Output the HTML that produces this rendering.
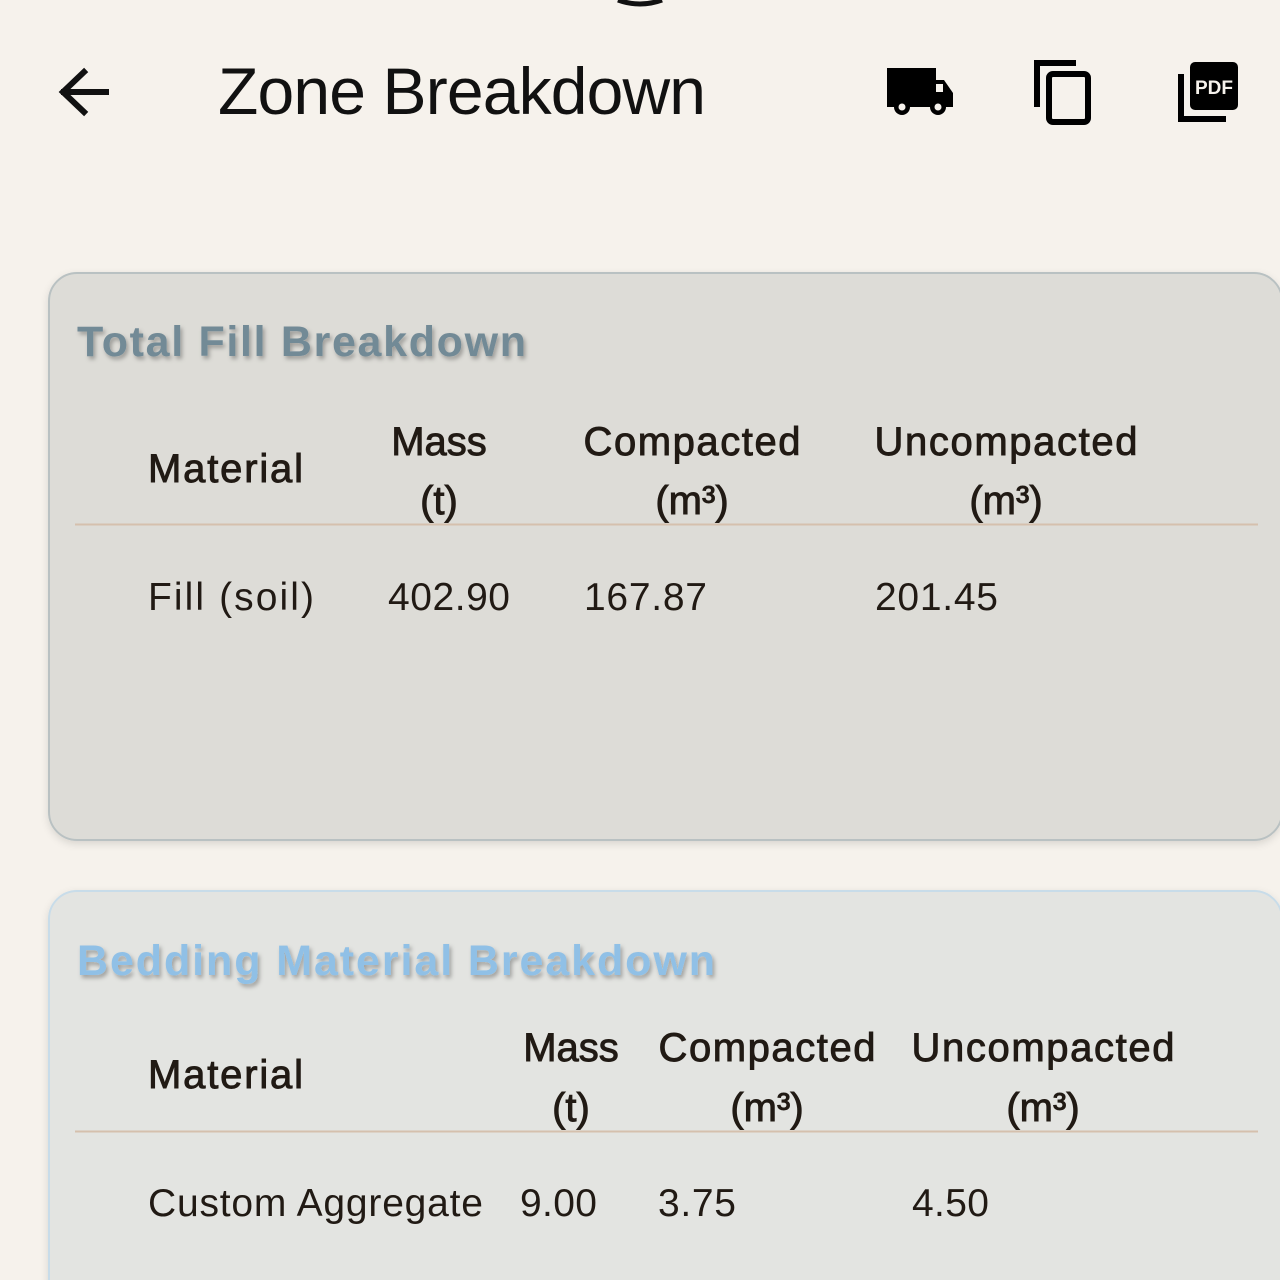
<!DOCTYPE html>
<html><head><meta charset="utf-8"><style>
body{margin:0;width:1280px;height:1280px;overflow:hidden;background:#f6f2ec;font-family:"Liberation Sans",sans-serif}
svg{display:block}
text{font-family:"Liberation Sans",sans-serif}
</style></head><body>
<svg width="1280" height="1280" viewBox="0 0 1280 1280">
<defs>
<filter id="ts" x="-5%" y="-20%" width="110%" height="150%"><feDropShadow dx="2" dy="3" stdDeviation="2" flood-color="#000" flood-opacity="0.3"/></filter>
<filter id="cs" x="-5%" y="-5%" width="110%" height="110%"><feDropShadow dx="0" dy="3" stdDeviation="4" flood-color="#000" flood-opacity="0.12"/></filter>
</defs>
<rect width="1280" height="1280" fill="#f6f2ec"/>
<path d="M618 0 Q640 8 662 0" stroke="#111" stroke-width="5" fill="none"/>
<g>
<path d="M106 92 H64 M84 72 L63 92 L84 112" stroke="#111" stroke-width="6" fill="none" stroke-linecap="square"/>
</g>
<text x="218" y="114" font-size="66" fill="#111" textLength="488">Zone Breakdown</text>
<g fill="#000">
<rect x="887" y="68" width="49" height="39"/>
<path d="M934 80 H944 L953 93 V107 H934Z"/>
<rect x="936" y="84" width="7" height="8" fill="#f6f2ec"/>
<circle cx="902" cy="107" r="8"/><circle cx="938" cy="107" r="8"/>
<circle cx="902" cy="107" r="3.5" fill="#f6f2ec"/><circle cx="938" cy="107" r="3.5" fill="#f6f2ec"/>
</g>
<g fill="none" stroke="#000" stroke-width="6">
<path d="M1037 107 V63 H1076"/>
<rect x="1049" y="74" width="39" height="48" rx="4"/>
</g>
<g>
<path d="M1181 74 V119 H1226" stroke="#000" stroke-width="6" fill="none"/>
<rect x="1190" y="62" width="48" height="48" rx="5" fill="#000"/>
<text x="1214" y="94" font-size="19" font-weight="bold" fill="#f6f2ec" text-anchor="middle" textLength="38">PDF</text>
</g>

<g>
<rect x="49" y="273" width="1233" height="567" rx="28" fill="#dddcd7" stroke="#b9c1c2" stroke-width="2" filter="url(#cs)"/>
<text x="77" y="356" font-size="43" font-weight="bold" fill="#728a96" filter="url(#ts)" textLength="449">Total Fill Breakdown</text>
<g font-size="40" fill="#211a14" stroke="#211a14" stroke-width="0.9">
<text x="148" y="482" textLength="155">Material</text>
<text x="439" y="455" text-anchor="middle">Mass</text>
<text x="439" y="514" text-anchor="middle">(t)</text>
<text x="692" y="455" text-anchor="middle" textLength="217">Compacted</text>
<text x="692" y="514" text-anchor="middle">(m³)</text>
<text x="1006" y="455" text-anchor="middle" textLength="263">Uncompacted</text>
<text x="1006" y="514" text-anchor="middle">(m³)</text>
</g>
<line x1="75" y1="524.5" x2="1258" y2="524.5" stroke="#d5c0ad" stroke-width="2"/>
<g font-size="39" fill="#211a14">
<text x="148" y="610" textLength="166">Fill (soil)</text>
<text x="388" y="610" textLength="122">402.90</text>
<text x="584" y="610" textLength="123">167.87</text>
<text x="875" y="610" textLength="123">201.45</text>
</g>
</g>

<g>
<rect x="49" y="891" width="1233" height="440" rx="28" fill="#e3e4e1" stroke="#c8dce9" stroke-width="2" filter="url(#cs)"/>
<text x="77" y="975" font-size="43" font-weight="bold" fill="#90c0e6" filter="url(#ts)" textLength="638">Bedding Material Breakdown</text>
<g font-size="40" fill="#211a14" stroke="#211a14" stroke-width="0.9">
<text x="148" y="1088" textLength="155">Material</text>
<text x="571" y="1061" text-anchor="middle">Mass</text>
<text x="571" y="1121" text-anchor="middle">(t)</text>
<text x="767" y="1061" text-anchor="middle" textLength="217">Compacted</text>
<text x="767" y="1121" text-anchor="middle">(m³)</text>
<text x="1043" y="1061" text-anchor="middle" textLength="263">Uncompacted</text>
<text x="1043" y="1121" text-anchor="middle">(m³)</text>
</g>
<line x1="75" y1="1131.5" x2="1258" y2="1131.5" stroke="#d5c0ad" stroke-width="2"/>
<g font-size="39" fill="#211a14">
<text x="148" y="1216" textLength="335">Custom Aggregate</text>
<text x="520" y="1216" textLength="77">9.00</text>
<text x="658" y="1216" textLength="78">3.75</text>
<text x="912" y="1216" textLength="77">4.50</text>
</g>
</g>
</svg>
</body></html>
